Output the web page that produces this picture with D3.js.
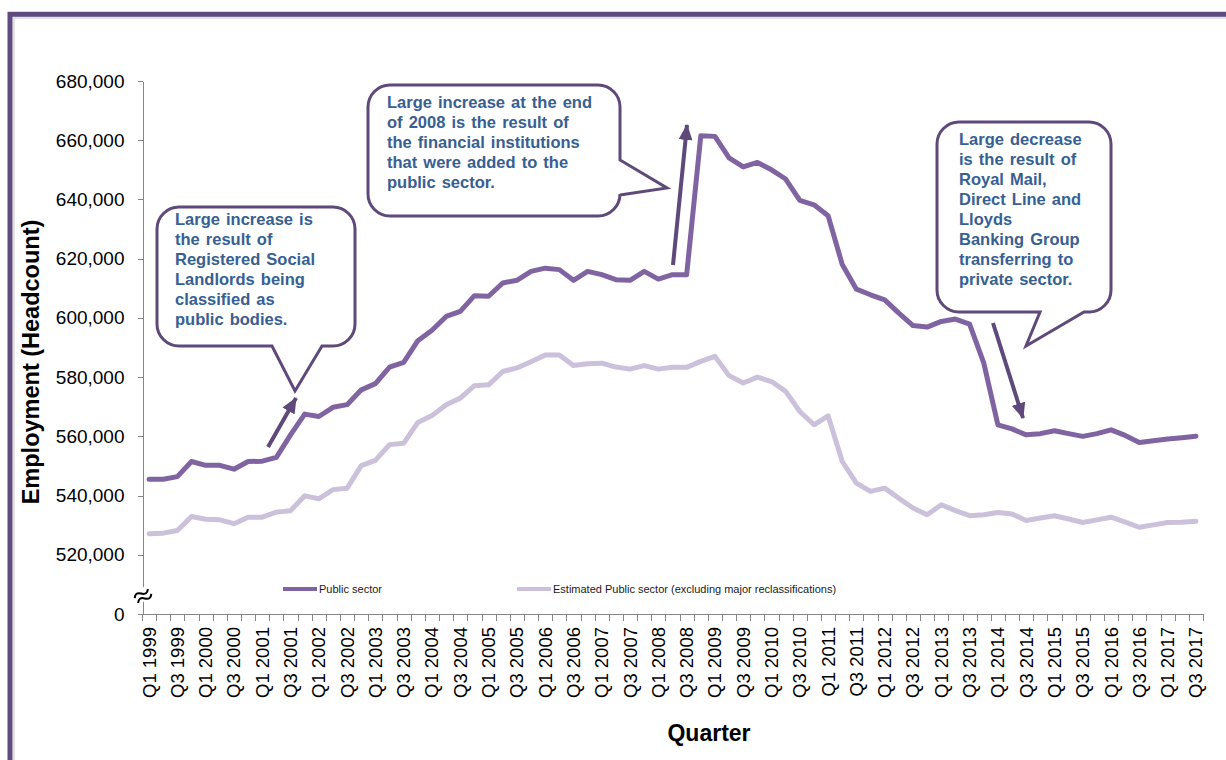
<!DOCTYPE html>
<html>
<head>
<meta charset="utf-8">
<title>Public sector employment</title>
<script src="https://cdn.jsdelivr.net/npm/d3@7"></script>
<style>
  body { margin: 0; background: #fff; }
  svg text { font-family: "Liberation Sans", Arial, sans-serif; }
  .axis path, .axis line { stroke: #868686; shape-rendering: crispEdges; }
  .axis text { font-size: 18.5px; fill: #000; }
  .y.axis text { font-size: 19px; }
  .callout-text { font-size: 16.5px; font-weight: bold; fill: #376092; word-spacing: 1.5px; }
</style>
</head>
<body>
<script>
// quarters Q1 1999 .. Q3 2017
var years = d3.range(1999, 2018);
var quarters = [];
years.forEach(function(yr) {
  [1, 2, 3, 4].forEach(function(q) {
    if (yr === 2017 && q === 4) return;
    quarters.push("Q" + q + " " + yr);
  });
});

var publicSector = [
  545500, 545500, 546400, 551500, 550200, 550200, 548900, 551500, 551600, 552900,
  560500, 567500, 566700, 569800, 570700, 575700, 577800, 583400, 585000, 592300,
  595800, 600500, 602200, 607500, 607300, 611800, 612700, 615700, 616800, 616300,
  612700, 615700, 614600, 612900, 612700, 615700, 613100, 614600, 614600, 661500,
  661300, 654000, 651000, 652500, 650000, 646900, 639700, 638200, 634500, 618000,
  609700, 607800, 606100, 601600, 597400, 596900, 598800, 599600, 597900, 584800,
  563900, 562500, 560500, 560900, 561900, 560900, 560000, 560900, 562200, 560300,
  557900, 558500, 559100, 559500, 560000
];

var estimatedPublic = [
  527100, 527300, 528200, 532900, 532000, 531800, 530500, 532700, 532700, 534400,
  534900, 539900, 538900, 542000, 542500, 550100, 551900, 557200, 557700, 564700,
  567000, 570700, 572900, 577100, 577400, 581900, 583100, 585200, 587500, 587500,
  583900, 584500, 584700, 583400, 582700, 583900, 582700, 583300, 583300, 585300,
  587000, 580500, 578000, 580000, 578500, 575200, 568400, 563900, 566900, 551500,
  544200, 541400, 542500, 539100, 535800, 533500, 536900, 534900, 533200, 533500,
  534300, 533800, 531600, 532400, 533200, 532100, 530900, 531800, 532700, 531000,
  529300, 530100, 530900, 531000, 531300
];

var yTicks = [500000, 520000, 540000, 560000, 580000, 600000, 620000, 640000, 660000, 680000];

var seriesNames = ["Public sector", "Estimated Public sector (excluding major reclassifications)"];

var callouts = [
  ["Large increase is", "the result of", "Registered Social", "Landlords being", "classified as", "public bodies."],
  ["Large increase at the end", "of 2008 is the result of", "the financial institutions", "that were added to the", "public sector."],
  ["Large decrease", "is the result of", "Royal Mail,", "Direct Line and", "Lloyds", "Banking Group", "transferring to", "private sector."]
];

var W = 1226, H = 760;
var plotL = 142, plotR = 1203, plotT = 81, plotB = 614;

var svg = d3.select("body").append("svg")
  .attr("width", W)
  .attr("height", H);

// frame
svg.append("rect")
  .attr("x", 10).attr("y", 14.3)
  .attr("width", 1400).attr("height", 1000)
  .attr("fill", "none").attr("stroke", "#5f4b7f").attr("stroke-width", 5);
svg.append("rect")
  .attr("x", 14).attr("y", 18)
  .attr("width", 1400).attr("height", 1000)
  .attr("fill", "none").attr("stroke", "#c8c8c8").attr("stroke-width", 1);

var x = d3.scaleBand().domain(quarters).range([plotL, plotR]);
var y = d3.scaleLinear().domain([500000, 680000]).range([plotB, plotT]);

// y axis
svg.append("g")
  .attr("class", "y axis")
  .attr("transform", "translate(" + (plotL + 0.5) + ",0)")
  .call(d3.axisLeft(y).tickValues(yTicks).tickSize(5).tickSizeOuter(0).tickPadding(13)
    .tickFormat(function(d) { return d === 500000 ? "0" : d3.format(",")(d); }));

// x axis line + ticks at band edges
var xa = svg.append("g").attr("class", "axis");
xa.append("line")
  .attr("x1", plotL).attr("x2", plotR)
  .attr("y1", plotB + 0.5).attr("y2", plotB + 0.5);
var edges = quarters.map(function(q) { return x(q); }).concat([x.range()[1]]);
xa.selectAll(".tk").data(edges).enter().append("line")
  .attr("x1", function(d) { return Math.round(d) + 0.5; })
  .attr("x2", function(d) { return Math.round(d) + 0.5; })
  .attr("y1", plotB).attr("y2", plotB + 7);

xa.selectAll(".lbl").data(quarters.filter(function(q, i) { return i % 2 === 0; }))
  .enter().append("text")
  .attr("transform", function(d) {
    return "translate(" + (x(d) + x.bandwidth() / 2) + "," + (plotB + 13) + ") rotate(-90)";
  })
  .attr("text-anchor", "end")
  .attr("dy", "0.35em")
  .text(function(d) { return d; });

// axis break symbol
var brk = svg.append("g").attr("transform", "translate(143,596) rotate(-35)");
brk.append("rect").attr("x", -9).attr("y", -7).attr("width", 18).attr("height", 12).attr("fill", "#fff");
brk.selectAll("path").data([-3, 3]).enter().append("path")
  .attr("d", function(o) { return "M-8," + o + " q4,-5 8,0 t8,0"; })
  .attr("fill", "none").attr("stroke", "#000").attr("stroke-width", 2);

// axis titles
svg.append("text")
  .attr("transform", "translate(39,362) rotate(-90)")
  .attr("text-anchor", "middle")
  .style("font-size", "23.5px").style("font-weight", "bold")
  .text("Employment (Headcount)");

svg.append("text")
  .attr("x", 709).attr("y", 741)
  .attr("text-anchor", "middle")
  .style("font-size", "23px").style("font-weight", "bold")
  .text("Quarter");

// lines
var line = d3.line()
  .x(function(d, i) { return x(quarters[i]) + x.bandwidth() / 2; })
  .y(function(d) { return y(d); });

svg.append("path")
  .datum(estimatedPublic)
  .attr("fill", "none").attr("stroke", "#ccc1da").attr("stroke-width", 5)
  .attr("stroke-linejoin", "round").attr("stroke-linecap", "round")
  .attr("d", line);

svg.append("path")
  .datum(publicSector)
  .attr("fill", "none").attr("stroke", "#8064a2").attr("stroke-width", 5)
  .attr("stroke-linejoin", "round").attr("stroke-linecap", "round")
  .attr("d", line);

// legend
var legend = [
  { name: seriesNames[0], color: "#8064a2", x: 283 },
  { name: seriesNames[1], color: "#ccc1da", x: 517 }
];
var lg = svg.selectAll(".leg").data(legend).enter().append("g")
  .attr("transform", function(d) { return "translate(" + d.x + ",589)"; });
lg.append("line").attr("x1", 0).attr("x2", 34)
  .attr("stroke", function(d) { return d.color; }).attr("stroke-width", 4);
lg.append("text").attr("x", 36).attr("dy", "0.35em")
  .style("font-size", "11px").attr("fill", "#1a1a1a")
  .text(function(d) { return d.name; });

// callouts
var purple = "#5f497a";

function bottomCallout(bx, by, w, h, r, p1, tip, p2) {
  return "M" + (bx + r) + "," + by + " H" + (bx + w - r) +
    " A" + r + "," + r + " 0 0 1 " + (bx + w) + "," + (by + r) +
    " V" + (by + h - r) +
    " A" + r + "," + r + " 0 0 1 " + (bx + w - r) + "," + (by + h) +
    " H" + p2 + " L" + tip[0] + "," + tip[1] + " L" + p1 + "," + (by + h) +
    " H" + (bx + r) +
    " A" + r + "," + r + " 0 0 1 " + bx + "," + (by + h - r) +
    " V" + (by + r) +
    " A" + r + "," + r + " 0 0 1 " + (bx + r) + "," + by + " Z";
}

function rightCallout(bx, by, w, h, r, p1, tip, p2) {
  return "M" + (bx + r) + "," + by + " H" + (bx + w - r) +
    " A" + r + "," + r + " 0 0 1 " + (bx + w) + "," + (by + r) +
    " V" + p1 + " L" + tip[0] + "," + tip[1] + " L" + (bx + w) + "," + p2 +
    " V" + (by + h - r) +
    " A" + r + "," + r + " 0 0 1 " + (bx + w - r) + "," + (by + h) +
    " H" + (bx + r) +
    " A" + r + "," + r + " 0 0 1 " + bx + "," + (by + h - r) +
    " V" + (by + r) +
    " A" + r + "," + r + " 0 0 1 " + (bx + r) + "," + by + " Z";
}

var boxes = [
  { d: bottomCallout(157, 207, 198, 139, 22, 272, [295, 391], 322), tx: 175, ty: 225, lines: callouts[0] },
  { d: rightCallout(368, 85, 252, 131, 22, 160, [667, 188], 195), tx: 387, ty: 108, lines: callouts[1] },
  { d: bottomCallout(937, 122, 174, 190, 22, 1040, [1026, 346], 1084), tx: 959, ty: 145, lines: callouts[2] }
];

boxes.forEach(function(b) {
  svg.append("path").attr("d", b.d)
    .attr("fill", "#fff").attr("stroke", purple).attr("stroke-width", 3);
  var t = svg.append("text").attr("class", "callout-text");
  b.lines.forEach(function(s, i) {
    t.append("tspan").attr("x", b.tx).attr("y", b.ty + i * 20).text(s);
  });
});

// arrows
svg.append("defs").append("marker")
  .attr("id", "head")
  .attr("markerUnits", "userSpaceOnUse")
  .attr("viewBox", "0 -7 16 14")
  .attr("refX", 15).attr("refY", 0)
  .attr("markerWidth", 16).attr("markerHeight", 14)
  .attr("orient", "auto")
  .append("path").attr("d", "M0,-7 L16,0 L0,7 Z").attr("fill", purple);

var arrows = [
  [[268, 447], [296, 398]],
  [[673, 265], [687, 125]],
  [[993, 323], [1023, 418]]
];
arrows.forEach(function(a) {
  svg.append("line")
    .attr("x1", a[0][0]).attr("y1", a[0][1])
    .attr("x2", a[1][0]).attr("y2", a[1][1])
    .attr("stroke", purple).attr("stroke-width", 4)
    .attr("marker-end", "url(#head)");
});
</script>
</body>
</html>
